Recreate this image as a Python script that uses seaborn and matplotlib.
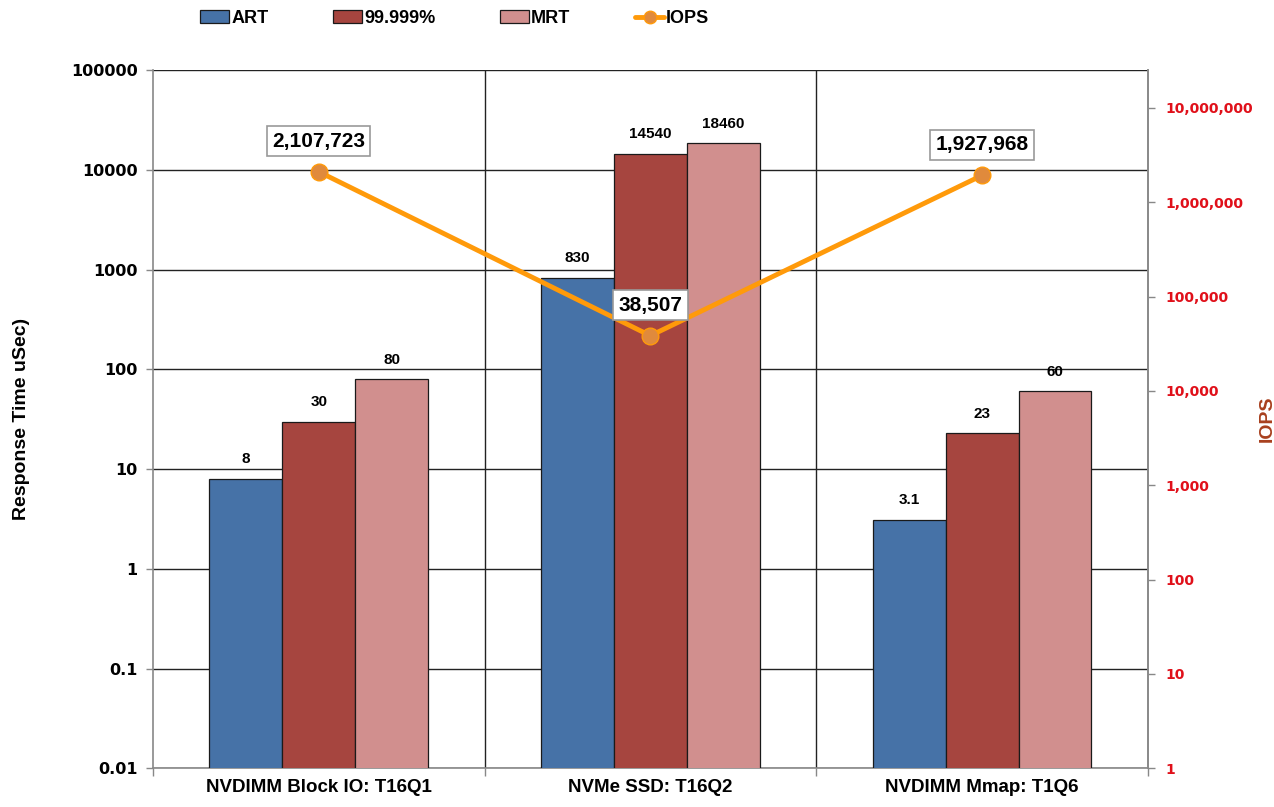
import matplotlib
matplotlib.use("Agg")
import matplotlib.pyplot as plt
import matplotlib.ticker as mticker
from matplotlib.lines import Line2D
from matplotlib.patches import Patch
import seaborn as sns
import pandas as pd

categories = ["NVDIMM Block IO: T16Q1", "NVMe SSD: T16Q2", "NVDIMM Mmap: T1Q6"]
series = ["ART", "99.999%", "MRT"]
art = [8, 830, 3.1]
p99999 = [30, 14540, 23]
mrt = [80, 18460, 60]
iops = [2107723, 38507, 1927968]
art_labels = ["8", "830", "3.1"]
p99999_labels = ["30", "14540", "23"]
mrt_labels = ["80", "18460", "60"]
iops_labels = ["2,107,723", "38,507", "1,927,968"]
rt_ticks = [0.01, 0.1, 1, 10, 100, 1000, 10000, 100000]
iops_ticks = [1, 10, 100, 1000, 10000, 100000, 1000000, 10000000]

colors = ["#4672A7", "#A6453F", "#D18F8E"]
line_color = "#FF9A0A"
marker_color = "#E08A3C"

sns.set_theme(style="white")
plt.rcParams["font.family"] = ["DejaVu Sans"]
plt.rcParams["text.color"] = "black"
label_font = ["Liberation Sans", "DejaVu Sans"]

df = pd.DataFrame({
    "category": categories * 3,
    "series": [s for s in series for _ in categories],
    "value": art + p99999 + mrt,
})

fig = plt.figure(figsize=(12.74, 8.07), dpi=100)
ax = fig.add_axes([0.120, 0.048, 0.781, 0.865])
ax.set_yscale("log")

sns.barplot(data=df, x="category", y="value", hue="series", order=categories,
            hue_order=series, palette=colors, saturation=1, width=0.66, gap=0,
            ax=ax, edgecolor="#1a1a1a", linewidth=0.9, legend=False, zorder=3)

ax.set_ylim(0.01, 100000)
ax.set_xlim(-0.5, 2.5)
ax.yaxis.set_major_locator(mticker.FixedLocator(rt_ticks))
ax.yaxis.set_minor_locator(mticker.NullLocator())
ax.yaxis.set_major_formatter(mticker.FuncFormatter(lambda v, p: f"{v:g}"))
ax.grid(axis="y", color="#222222", linewidth=1.0, zorder=0)
for xb in [0.5, 1.5]:
    ax.axvline(xb, color="#222222", linewidth=1.0, zorder=0)

ax.tick_params(axis="y", which="major", left=True, length=5, width=1,
               color="#888888", labelsize=11.5, labelcolor="black", pad=6)
for t in ax.get_yticklabels():
    t.set_fontweight("bold")
ax.set_xticks(range(3))
ax.set_xticklabels(categories, fontsize=13.5, fontweight="bold", family=label_font)
ax.tick_params(axis="x", which="major", length=0, pad=8, labelcolor="black")
ax.xaxis.set_minor_locator(mticker.FixedLocator([-0.5, 0.5, 1.5, 2.5]))
ax.xaxis.set_minor_formatter(mticker.NullFormatter())
ax.tick_params(axis="x", which="minor", length=6, color="#888888", bottom=True,
               labelbottom=False)
ax.set_xlabel("")
ax.set_ylabel("Response Time uSec)", fontsize=14, fontweight="bold",
              family=label_font, color="black")
ax.yaxis.set_label_coords(-0.124, 0.5)

for side in ["left", "bottom", "right"]:
    ax.spines[side].set_color("#888888")
    ax.spines[side].set_linewidth(1.2)
ax.spines["top"].set_visible(False)

# value labels above bars
all_labels = [art_labels, p99999_labels, mrt_labels]
for container, labs in zip(ax.containers, all_labels):
    ax.bar_label(container, labels=labs, padding=9, fontsize=11,
                 fontweight="bold", family=label_font, color="black")

# IOPS on secondary axis
ax2 = ax.twinx()
ax2.set_yscale("log")
sns.lineplot(x=[0, 1, 2], y=iops, ax=ax2, color=line_color, linewidth=3.5,
             marker="o", markersize=12, markerfacecolor=marker_color,
             markeredgecolor=line_color, markeredgewidth=1.0, zorder=5)
ax2.set_ylim(1, 10 ** 7.4)
ax2.set_xlim(-0.5, 2.5)
ax2.yaxis.set_major_locator(mticker.FixedLocator(iops_ticks))
ax2.yaxis.set_minor_locator(mticker.NullLocator())
ax2.yaxis.set_major_formatter(mticker.FuncFormatter(lambda v, p: f"{v:,.0f}"))
ax2.tick_params(axis="y", right=True, length=5, width=1, color="#888888",
                labelsize=10, labelcolor="#E0101A", pad=8)
ax2.tick_params(axis="x", bottom=False, labelbottom=False)
for t in ax2.get_yticklabels():
    t.set_fontweight("bold")
ax2.set_ylabel("IOPS", fontsize=14, fontweight="bold", color="#A8401E",
               family=label_font, rotation=90)
ax2.yaxis.set_label_coords(1.111, 0.5)
for side in ["left", "bottom", "top"]:
    ax2.spines[side].set_visible(False)
ax2.spines["right"].set_color("#888888")
ax2.spines["right"].set_linewidth(1.2)

for xi, (v, lab) in enumerate(zip(iops, iops_labels)):
    ax2.annotate(lab, (xi, v), xytext=(0, 22), textcoords="offset points",
                 ha="center", va="center", fontsize=15, fontweight="bold",
                 family=label_font, zorder=6, color="black",
                 bbox=dict(boxstyle="square,pad=0.25", facecolor="white",
                           edgecolor="#999999", linewidth=1.2))

handles = [Patch(facecolor=c, edgecolor="#1a1a1a", linewidth=0.9) for c in colors]
handles.append(Line2D([0], [0], color=line_color, linewidth=3.5, marker="o",
                      markersize=9, markerfacecolor=marker_color,
                      markeredgecolor=line_color))
fig.legend(handles, series + ["IOPS"], loc="center", ncol=4,
           bbox_to_anchor=(0.357, 0.977), frameon=False, columnspacing=3.6,
           handlelength=1.6, handletextpad=0.1,
           prop=dict(family=label_font, weight="bold", size=13))

fig.savefig("out.png", dpi=100, facecolor="white")
